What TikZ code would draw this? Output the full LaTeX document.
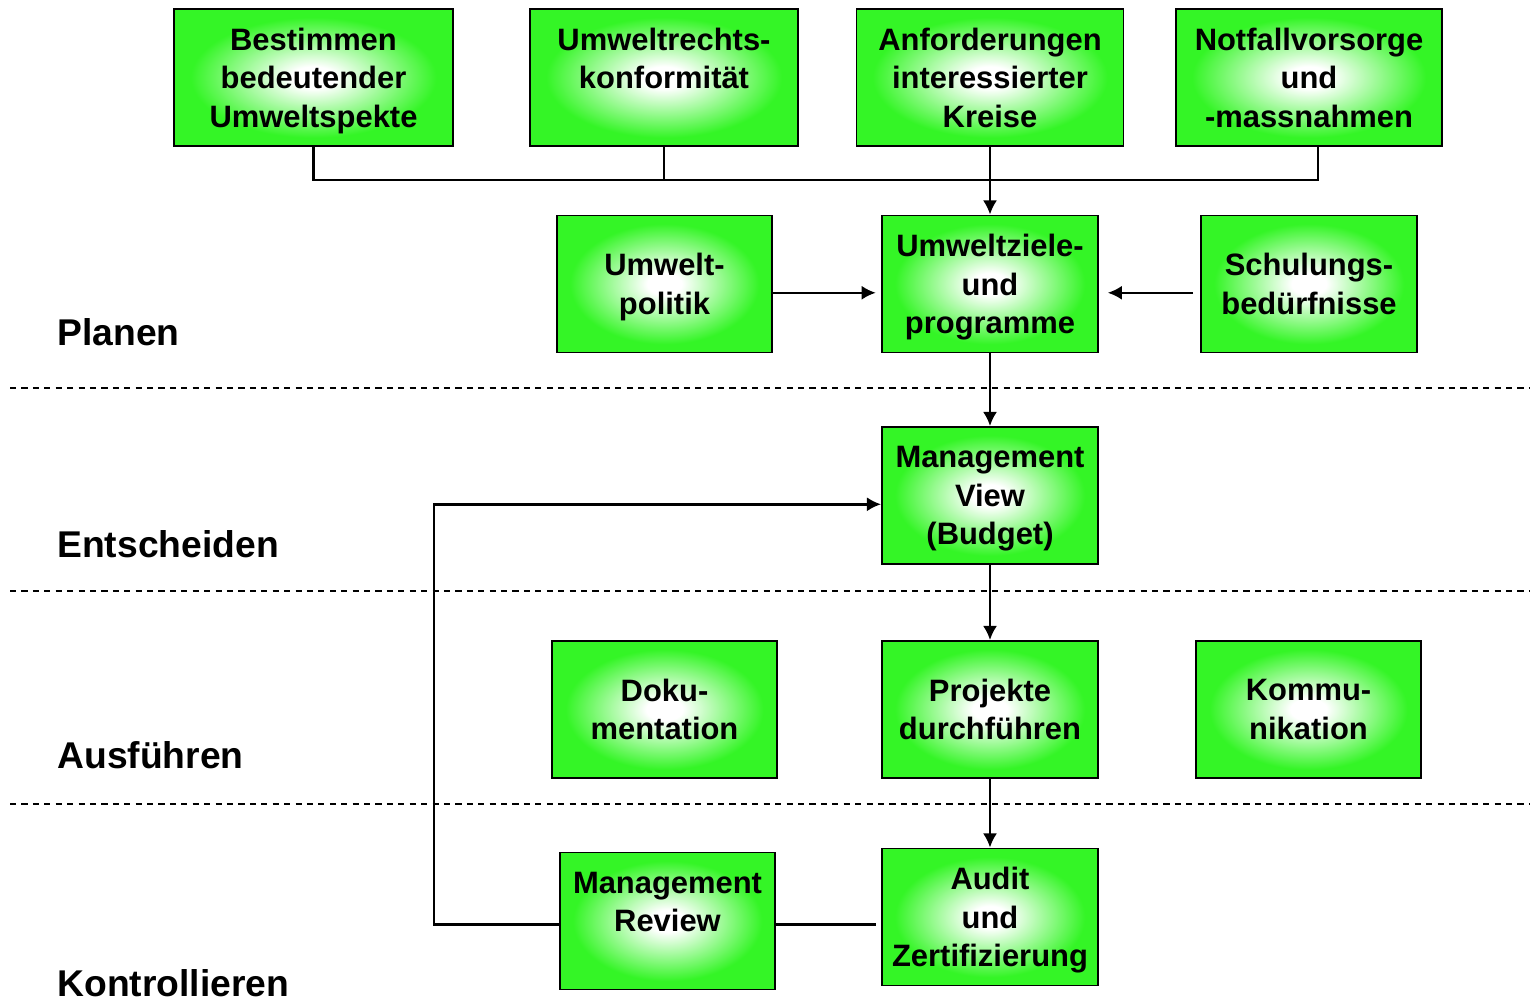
\documentclass[tikz,border=0pt]{standalone}
\usepackage{fontspec}
\setmainfont{Liberation Sans}
\usepackage{tikz}
\usetikzlibrary{arrows.meta}
\definecolor{boxgreen}{RGB}{52,245,38}
\pgfdeclareradialshading{boxglow}{\pgfpoint{0bp}{0bp}}{color(0bp)=(white); color(4bp)=(white); color(22bp)=(boxgreen); color(50bp)=(boxgreen)}

\begin{document}
\begin{tikzpicture}[
		x=0.02cm, y=-0.02cm,
		font=\bfseries\fontsize{17.6}{21.9}\selectfont,
		box/.style={draw, line width=1.1pt, shading=boxglow, align=center,
			minimum width={#1*0.02cm}, minimum height=2.74cm, inner sep=1pt,
			text depth=0pt},
		box/.default=216,
		link/.style={line width=1.4pt},
		flow/.style={link, -{Latex[length=8pt,width=8pt]}},
		divider/.style={line width=0.8pt, dash pattern=on 3.5pt off 3pt},
		phase/.style={anchor=base west, inner sep=0, font=\bfseries\fontsize{21.2}{25}\selectfont}]
		\useasboundingbox (0,0) rectangle (1534,999);
		
		% Phasen
		\draw[divider] (10,388) -- (1530,388);
		\draw[divider] (10,591) -- (1530,591);
		\draw[divider] (10,804) -- (1530,804);
		\node[phase] (planen) at (57,346) {Planen};
		\node[phase] (entscheiden) at (57,558) {Entscheiden};
		\node[phase] (ausfuehren) at (57,768) {Ausführen};
		\node[phase] (kontrollieren) at (57,996) {Kontrollieren};
		
		% Kästen
		\node[box=279] (aspekte) at (313.5,77.5) {Bestimmen\\bedeutender\\Umweltspekte};
		\node[box=268] (recht) at (664,77.5) {Umweltrechts-\\konformität\\\strut};
		\node[box=267] (kreise) at (990,77.5) {Anforderungen\\interessierter\\Kreise};
		\node[box=266] (notfall) at (1309,77.5) {Notfallvorsorge\\und\\-massnahmen};
		\node[box=215] (politik) at (664.5,284) {Umwelt-\\politik};
		\node[box] (ziele) at (990,284) {Umweltziele-\\und\\programme};
		\node[box] (schulung) at (1309,284) {Schulungs-\\bedürfnisse};
		\node[box] (view) at (990,495.5) {Management\\View\\(Budget)};
		\node[box=225] (doku) at (664.5,709.5) {Doku-\\mentation};
		\node[box] (projekte) at (990,709.5) {Projekte\\durchführen};
		\node[box=225] (kommu) at (1308.5,709.5) {Kommu-\\nikation};
		\node[box=215] (review) at (667.5,921) {Management\\Review\\\strut};
		\node[box] (audit) at (990,917) {Audit\\und\\Zertifizierung};
		
		% Verbindungen
		\coordinate (bus) at (990,180);
		\draw[link] (aspekte.south) |- (bus) -| ([xshift=5pt]notfall.south);
		\draw[link] (recht.south) -- (recht.south |- bus);
		\draw[flow] (kreise) -- (ziele);
		\draw[flow, shorten >=3pt] ([yshift=-5pt]politik.east) -- ([yshift=-5pt]ziele.west);
		\draw[flow, shorten >=5pt, shorten <=4pt] ([yshift=-5pt]schulung.west) -- ([yshift=-5pt]ziele.east);
		\draw[flow] (ziele) -- (view);
		\draw[flow] (view) -- (projekte);
		\draw[flow] (projekte) -- (audit);
		\draw[link, shorten >=3pt] ([yshift=-2pt]review.east) -- ([yshift=-2pt]review.east -| audit.west);
		\draw[flow] ([yshift=-2pt]review.west) -- ++(-125,0) |- ([yshift=-5pt]view.west);
		
\end{tikzpicture}
\end{document}
